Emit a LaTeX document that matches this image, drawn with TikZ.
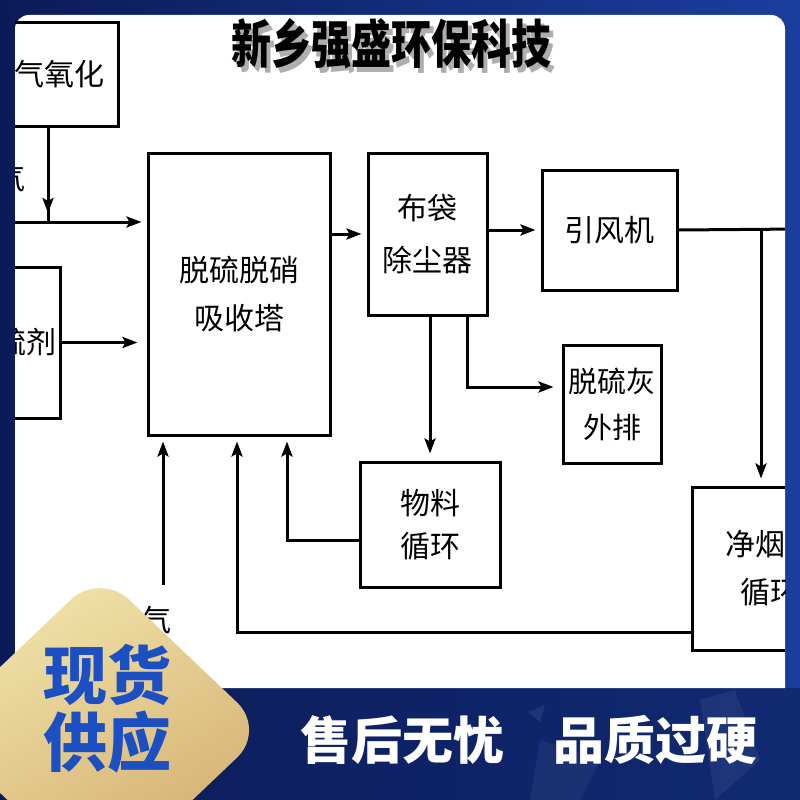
\documentclass[tikz,border=0pt]{standalone}
\usepackage{fontspec}
\newfontfamily\cjk{Noto Sans CJK SC}
\usetikzlibrary{arrows.meta}
\definecolor{navy}{HTML}{0B1B58}
\definecolor{navytwo}{HTML}{1A3E9E}
\definecolor{bblue}{HTML}{1E4DB0}
\definecolor{goldone}{HTML}{F1E5AA}
\definecolor{goldmid}{HTML}{F0DDB0}
\definecolor{goldtwo}{HTML}{D4AD70}
\definecolor{tblue}{HTML}{1C4FC2}
\tikzset{
  box/.style={draw, line width=3pt, inner sep=0pt, align=center,
    font=\cjk\fontsize{30}{48}\selectfont},
  ln/.style={line width=3pt},
  arr/.style={line width=3pt, -{Stealth[length=15pt,width=11pt,inset=3pt]}, shorten >=5pt},
  lbl/.style={inner sep=0pt, font=\cjk\fontsize{30}{36}\selectfont}
}
\begin{document}
\begin{tikzpicture}[x=1pt,y=-1pt]
\useasboundingbox (0,0) rectangle (800,800);
% background frame
\shade[left color=navy, right color=navytwo] (0,0) rectangle (800,800);
% bottom banner
\shade[left color=navy, middle color=bblue, right color=navy!70!bblue] (0,688) rectangle (800,800);
\fill[white, opacity=0.07] (528,712) -- (545,705) -- (540,722) -- cycle;
\fill[white, opacity=0.06] (700,700) -- (735,690) -- (760,760) -- (715,800) -- cycle;
\fill[white, opacity=0.05] (540,740) -- (600,760) -- (580,800) -- (530,800) -- cycle;
% white panel
\fill[white] (15,688) {[rounded corners=14pt] -- (15,15) -- (785,15)} -- (785,688) -- cycle;

\begin{scope}
\clip (15,15) rectangle (785,688);
% boxes
\node[box, minimum width=118pt, minimum height=103pt] (ox) at (59,74.5) {气氧化};
\node[box, minimum width=66pt, minimum height=151pt] (ab) at (27,342.5) {硫剂};
\node[box, minimum width=182pt, minimum height=282pt] (tower) at (239,294) {脱硫脱硝\\吸收塔};
\node[box, minimum width=119pt, minimum height=162pt, font=\cjk\fontsize{30}{52}\selectfont] (bag) at (427.5,234) {布袋\\除尘器};
\node[box, minimum width=135pt, minimum height=120pt] (fan) at (609.5,230) {引风机};
\node[box, minimum width=98pt, minimum height=118pt, font=\cjk\fontsize{29}{46}\selectfont] (ash) at (612,404) {脱硫灰\\外排};
\node[box, minimum width=140pt, minimum height=125pt, font=\cjk\fontsize{30}{43}\selectfont] (mat) at (430,524.5) {物料\\循环};
\node[box, minimum width=156pt, minimum height=163pt] (clean) at (770,568.5) {净烟气\\循环};
% labels
\node[lbl] (gasa) at (10,178) {气};
\node[lbl] (gasb) at (156,620) {气};
% coordinates
\coordinate (j1) at (48,222);
\coordinate (l1) at (0,222);
\coordinate (r1) at (800,229);
\coordinate (j2) at (761,229);
\coordinate (b2) at (467,387);
\coordinate (m1) at (287,540);
\coordinate (c1) at (237,632);
\coordinate (g1) at (163,585);
% connectors
\draw[ln] (ox.south -| j1) -- (j1);
\draw[arr, shorten >=0pt] (ox.south -| j1) -- ([yshift=9pt]j1);
\draw[arr] (l1) -- (l1 -| tower.west);
\draw[arr, shorten >=9pt] (ab.east) -- (ab.east -| tower.west);
\draw[arr] (tower.east |- bag) -- (bag.west);
\draw[arr] (bag.east |- fan) -- (fan.west);
\draw[ln] (fan.east) -- (r1);
\draw[arr, shorten >=7pt] (j2) -- (clean.north -| j2);
\draw[arr, shorten >=7pt] (bag.south -| mat.north) -- (mat.north);
\draw[arr, shorten >=8pt] (bag.south -| b2) |- (ash.west |- b2);
\draw[arr] (mat.west |- m1) -| (tower.south -| m1);
\draw[arr] (clean.west |- c1) -| (tower.south -| c1);
\draw[arr] (g1) -- (tower.south -| g1);
\end{scope}

% title with shadow
\node[text=black!45, opacity=0.7] (tshadow) at (395,49) {\scalebox{1}[1.3]{\cjk\bfseries\fontsize{40}{40}\selectfont 新乡强盛环保科技}};
\node (title) at (391,44) {\scalebox{1}[1.3]{\cjk\bfseries\fontsize{40}{40}\selectfont 新乡强盛环保科技}};

% gold badge
\shade[top color=goldone, middle color=goldmid, bottom color=goldtwo, shading angle=30, rounded corners=40pt]
  (100,572) -- (266,730) -- (100,888) -- (-66,730) -- cycle;
\node[text=tblue, align=center, inner sep=0pt, font=\cjk\bfseries\fontsize{64}{67}\selectfont] (badge) at (107,709) {现货\\供应};

% bottom texts
\node[text=white, inner sep=0pt, font=\cjk\bfseries\fontsize{51}{51}\selectfont] (s1) at (402,740) {售后无忧};
\node[text=white, inner sep=0pt, font=\cjk\bfseries\fontsize{51}{51}\selectfont] (s2) at (655,740) {品质过硬};
\end{tikzpicture}
\end{document}
